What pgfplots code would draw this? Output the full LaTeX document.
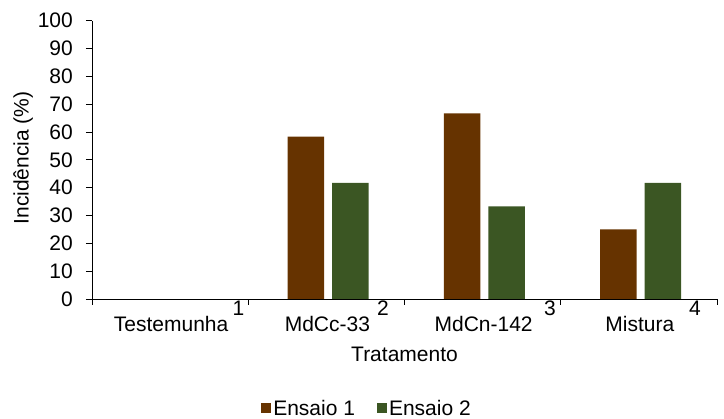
\documentclass[border=0pt]{standalone}
\usepackage{fontspec}
\setmainfont{Liberation Sans}
\usepackage{pgfplots}
\pgfplotsset{compat=1.18}
\definecolor{ensaioA}{RGB}{102,51,0}
\definecolor{ensaioB}{RGB}{59,86,35}

\begin{document}
\fontsize{21}{25}\selectfont
\begin{tikzpicture}[x=1pt,y=1pt]
\useasboundingbox (0,0) rectangle (724,419);
\begin{axis}[
  at={(92pt,120pt)}, anchor=south west,
  scale only axis, width=625pt, height=278.3pt,
  font=\fontsize{21}{25}\selectfont,
  xmin=-0.5, xmax=3.5, ymin=0, ymax=100,
  clip=false,
  axis x line*=bottom, axis y line*=left,
  axis line style={black, line width=0.8pt},
  every tick/.style={black, line width=0.8pt},
  tick align=outside,
  ytick={0,10,...,100},
  yticklabel style={xshift=-6pt, /pgf/number format/assume math mode=true},
  major tick length=6pt,
  xtick={-0.5,0.5,1.5,2.5,3.5},
  xticklabels={},
  extra x ticks={0,1,2,3},
  extra x tick labels={Testemunha, MdCc-33, MdCn-142, Mistura},
  extra x tick style={major tick length=0pt, tick style={draw=none},
    xticklabel style={anchor=base, yshift=-32.5pt, xshift=1pt}},
  xlabel={Tratamento},
  xlabel style={at={(axis description cs:0.5,0)}, anchor=base, yshift=-62.7pt},
  ylabel={Incidência (\%)},
  ylabel style={at={(axis description cs:-0.1016,0.507)}, anchor=base},
  ybar, bar width=36.5pt,
  legend columns=2,
  legend style={draw=none, fill=none, at={(axis description cs:0.44,-0.396)}, anchor=center,
    font=\fontsize{21}{25}\selectfont,
    /tikz/every even column/.append style={column sep=20pt}},
  legend image code/.code={\fill[#1] (-3pt,-4pt) rectangle (7pt,6pt);},
]
% Testemunha: 0 % in both trials, so no bars are drawn there
\addplot[fill=ensaioA, draw=none, bar shift=-20.5pt] coordinates {(1,58.3) (2,66.7) (3,25.0)};
\addplot[fill=ensaioB, draw=none, bar shift=24pt] coordinates {(1,41.7) (2,33.3) (3,41.7)};
\legend{Ensaio 1, Ensaio 2}
\node[anchor=base, yshift=-17pt] at (axis cs:0.438,0) {1};
\node[anchor=base, yshift=-17pt] at (axis cs:1.362,0) {2};
\node[anchor=base, yshift=-17pt] at (axis cs:2.431,0) {3};
\node[anchor=base, yshift=-17pt] at (axis cs:3.359,0) {4};
\end{axis}
\end{tikzpicture}
\end{document}
